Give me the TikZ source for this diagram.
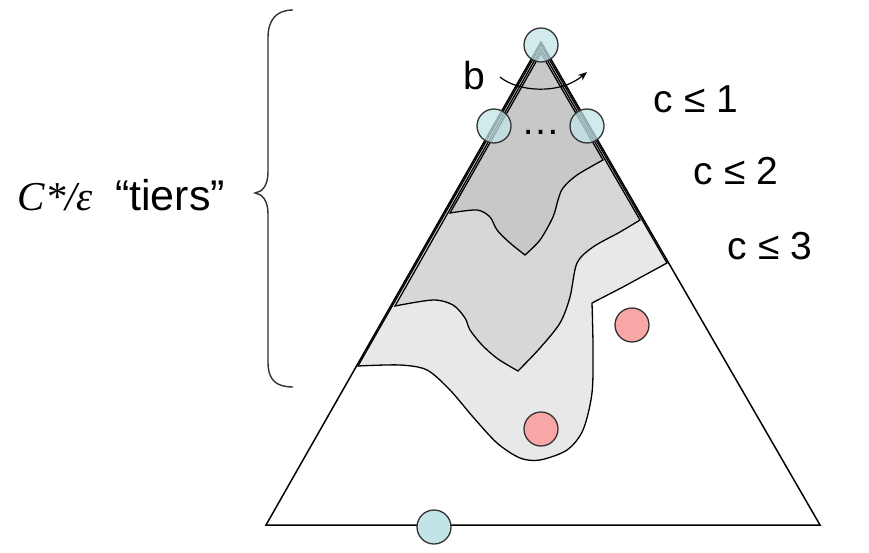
\documentclass[tikz,border=0pt]{standalone}
\usepackage{fontspec}
\setmainfont{Liberation Sans}
\newfontfamily\serifit{Liberation Serif}
\usetikzlibrary{calc,arrows.meta}

\definecolor{tierone}{HTML}{C8C8C8}
\definecolor{tiertwo}{HTML}{D7D7D7}
\definecolor{tierthree}{HTML}{E8E8E8}
\definecolor{stateblue}{HTML}{C2E4E7}
\definecolor{goalred}{HTML}{F8A6A6}

\begin{document}
\begin{tikzpicture}[x=1pt,y=-1pt,line width=1.5pt,
	state/.style={circle,draw=black!80,fill=stateblue,fill opacity=0.75,
		minimum size=34pt,inner sep=0pt,line width=1.3pt},
	goal/.style={state,fill=goalred,fill opacity=1},
	tier/.style={draw=black,line width=1.3pt},
	lbl/.style={font=\fontsize{39}{44}\selectfont,anchor=base west,inner sep=0pt}]
	\useasboundingbox (0,0) rectangle (869,553);
	\coordinate (top) at (541,42);
	\coordinate (left) at (266,525);
	\coordinate (right) at (820,525);
	% tiers, the widest first
	\filldraw [tier,fill=tierthree] (541,45) -- (358,366) --
		plot [smooth,tension=0.5] coordinates {(358,366) (400,365) (427,370)
		(450,390) (473,417) (497,443) (520,458) (540,460) (567,450) (583,430)
		(592,393) (593,347) (592,303)} -- (623,287) -- (667,263) -- cycle;
	\filldraw [tier,fill=tiertwo] (541,49) -- (395,306) --
		plot [smooth,tension=0.5] coordinates {(395,306) (433,300) (453,305)
		(465,318) (470,330) (482,345) (498,359) (518,371)} --
		plot [smooth,tension=0.5] coordinates {(518,371) (540,348) (560,323)
		(570,297) (577,263) (593,247) (620,232) (640,220)} -- cycle;
	\filldraw [tier,fill=tierone] (541,53) -- (450,213) --
		plot [smooth,tension=0.5] coordinates {(450,213) (477,210) (490,217)
		(497,230) (510,243) (525,255)} --
		plot [smooth,tension=0.5] coordinates {(525,255) (540,240) (553,217)
		(558,200) (563,188) (577,175) (603,160)} -- cycle;
	\draw (top) -- (left) -- (right) -- cycle;
	% states
	\node [state] (root) at (541,45) {};
	\foreach \px/\n in {494/1,587/2}
		\node [state] (child-\n) at (\px,126) {};
	\node [font=\fontsize{39}{44}\selectfont,inner sep=0pt,anchor=base] (dots) at (541,135) {…};
	\foreach \p [count=\i] in {(632,325),(541,429)}
		\node [goal] (goal-\i) at \p {};
	\node [state,fill opacity=1] (leaf) at (434,527) {};
	% branching
	\node [lbl] (b) at (463,90) {b};
	\coordinate (b-from) at (500,77);
	\coordinate (b-to) at (587,72);
	\draw [-{Stealth[length=9pt,width=7pt]},line width=1.2pt] (b-from) .. controls (518,92) and (560,95) .. (b-to);
	\foreach \px/\py [count=\i] in {653/113,693/185,727/259}
		\node [lbl] (bound-\i) at (\px,\py) {c ≤ \i};
	% brace
	\draw [line width=1.4pt,black!80] (293,10) .. controls (276,10) and (268,20) .. (268,38)
		-- (268,172) .. controls (268,186) and (262,192) .. (255,193)
		.. controls (262,194) and (268,200) .. (268,214)
		-- (268,362) .. controls (268,380) and (276,387) .. (293,387);
	\node [lbl] (tiers) at (17,211) {{\serifit\itshape\fontsize{41}{44}\selectfont C*/ε}\hspace{22pt}{\fontsize{43}{46}\selectfont “tiers”}};
\end{tikzpicture}
\end{document}
